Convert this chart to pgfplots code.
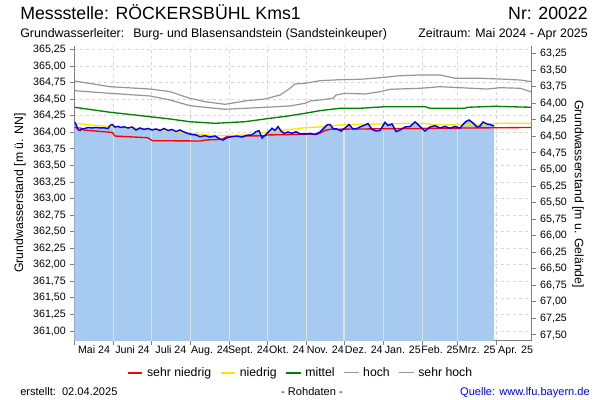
\documentclass[border=0pt]{standalone}
\usepackage{fontspec}
\setmainfont{Liberation Sans}
\usepackage{pgfplots}
\usepackage{pgfplotstable}
\pgfplotsset{compat=1.18}
\definecolor{fillblue}{RGB}{166,202,240}
\definecolor{axisgray}{RGB}{128,128,128}
\definecolor{gridgray}{RGB}{215,215,215}
\definecolor{ylw}{RGB}{255,228,0}
\definecolor{grn}{RGB}{0,128,0}
\definecolor{gr1}{RGB}{150,150,150}
\definecolor{gr2}{RGB}{150,150,150}
\definecolor{vline}{RGB}{225,225,225}

\pgfplotstableread{
x y
0 364.158
1.19 364.120
2.78 364.045
4.36 364.030
5.95 364.052
8.33 364.060
10.71 364.075
13.89 364.067
17.06 364.075
20.23 364.067
23.41 364.070
26.58 364.060
28.17 364.105
29.75 364.120
32.14 364.082
34.52 364.090
36.90 364.075
39.28 364.085
42.45 364.067
45.62 364.082
48.80 364.037
51.97 364.067
55.15 364.045
58.32 364.060
61.49 364.037
64.67 364.052
67.84 364.030
71.01 364.060
74.19 364.030
77.36 364.045
80.54 364.014
83.71 364.037
86.88 364.007
90.06 363.984
93.23 363.969
96.40 363.962
99.58 363.936
103.54 363.951
107.51 363.931
111.48 363.946
115.45 363.901
117.83 363.886
121.00 363.921
124.97 363.936
128.94 363.946
132.90 363.931
136.87 363.957
140.84 363.962
144.01 364.011
146.39 364.027
148.77 363.916
151.15 363.957
153.53 363.999
156.71 364.063
159.09 364.030
161.47 364.087
163.85 364.022
166.23 363.987
169.40 364.007
172.58 363.987
175.75 364.011
178.93 363.977
182.89 363.977
186.86 363.984
190.83 363.969
194.80 364.007
197.18 364.052
200.35 364.113
202.73 364.120
205.11 364.060
208.29 364.052
211.46 364.022
214.63 364.067
217.81 364.120
220.98 364.052
224.16 364.060
227.33 364.090
230.50 364.113
232.88 364.135
236.06 364.045
239.23 364.022
242.40 364.030
246.37 364.153
248.75 364.105
251.92 364.128
255.10 364.014
258.27 364.037
262.24 364.082
266.21 364.090
270.17 364.158
272.55 364.120
275.73 364.060
278.11 364.022
282.08 364.082
286.04 364.102
290.01 364.067
293.98 364.090
297.94 364.063
301.91 364.090
305.88 364.067
308.26 364.120
310.64 364.165
313.02 364.188
316.19 364.143
319.37 364.082
321.75 364.097
324.13 364.158
327.30 364.128
329.68 364.120
332.86 364.097
}\blue

\pgfplotstableread{
x y
0 360.5
0 364.158
1.19 364.120
2.78 364.045
4.36 364.030
5.95 364.052
8.33 364.060
10.71 364.075
13.89 364.067
17.06 364.075
20.23 364.067
23.41 364.070
26.58 364.060
28.17 364.105
29.75 364.120
32.14 364.082
34.52 364.090
36.90 364.075
39.28 364.085
42.45 364.067
45.62 364.082
48.80 364.037
51.97 364.067
55.15 364.045
58.32 364.060
61.49 364.037
64.67 364.052
67.84 364.030
71.01 364.060
74.19 364.030
77.36 364.045
80.54 364.014
83.71 364.037
86.88 364.007
90.06 363.984
93.23 363.969
96.40 363.962
99.58 363.936
103.54 363.951
107.51 363.931
111.48 363.946
115.45 363.901
117.83 363.886
121.00 363.921
124.97 363.936
128.94 363.946
132.90 363.931
136.87 363.957
140.84 363.962
144.01 364.011
146.39 364.027
148.77 363.916
151.15 363.957
153.53 363.999
156.71 364.063
159.09 364.030
161.47 364.087
163.85 364.022
166.23 363.987
169.40 364.007
172.58 363.987
175.75 364.011
178.93 363.977
182.89 363.977
186.86 363.984
190.83 363.969
194.80 364.007
197.18 364.052
200.35 364.113
202.73 364.120
205.11 364.060
208.29 364.052
211.46 364.022
214.63 364.067
217.81 364.120
220.98 364.052
224.16 364.060
227.33 364.090
230.50 364.113
232.88 364.135
236.06 364.045
239.23 364.022
242.40 364.030
246.37 364.153
248.75 364.105
251.92 364.128
255.10 364.014
258.27 364.037
262.24 364.082
266.21 364.090
270.17 364.158
272.55 364.120
275.73 364.060
278.11 364.022
282.08 364.082
286.04 364.102
290.01 364.067
293.98 364.090
297.94 364.063
301.91 364.090
305.88 364.067
308.26 364.120
310.64 364.165
313.02 364.188
316.19 364.143
319.37 364.082
321.75 364.097
324.13 364.158
327.30 364.128
329.68 364.120
332.86 364.097
332.86 360.5
}\bluefill

\pgfplotstableread{
x y
0 364.777
28.2 364.691
59.9 364.656
75.8 364.616
91.6 364.516
103.5 364.465
119.4 364.425
135.2 364.475
151.1 364.505
163.1 364.566
171 364.667
175 364.732
182.9 364.743
194.8 364.782
210.7 364.797
226.6 364.803
242.5 364.827
258.3 364.857
274.2 364.868
290.1 364.868
302 364.818
321.8 364.818
337.8 364.807
353.7 364.792
362.6 364.767
}\sehrhoch

\pgfplotstableread{
x y
0 364.631
28.2 364.591
59.9 364.551
75.8 364.490
91.6 364.404
103.5 364.380
119.4 364.350
135.2 364.365
151.1 364.380
171 364.400
182.9 364.440
187 364.475
194.8 364.490
205.2 364.516
207.5 364.566
214.6 364.591
230.5 364.581
242.5 364.616
250.4 364.652
274.2 364.667
290.1 364.691
306 364.676
327.4 364.656
337.8 364.676
353.7 364.667
362.6 364.611
}\hoch

\pgfplotstableread{
x y
0 364.380
28.2 364.305
59.9 364.238
75.8 364.203
91.6 364.162
111.5 364.138
135.2 364.162
151.1 364.203
171 364.253
182.9 364.289
194.8 364.329
210.7 364.365
226.6 364.365
246.5 364.389
278.1 364.389
282.1 364.365
309.9 364.365
311.5 364.380
333.8 364.395
362.6 364.380
}\mittel

\pgfplotstableread{
x y
0 364.138
28.2 364.087
59.9 364.052
91.6 363.987
111.5 363.951
135.2 363.961
155.1 364.011
182.9 364.072
198.8 364.087
210.7 364.113
242.5 364.128
274.2 364.138
290.1 364.113
329.8 364.123
333.8 364.138
362.6 364.138
}\niedrig

\pgfplotstableread{
x y
0 364.072
5 364.065
8 364.035
30 364.000
32 363.946
58 363.920
62 363.875
100 363.871
104 363.886
117 363.895
121 363.940
150 363.950
153 363.962
193 363.975
199 364.030
203 364.048
270 364.060
362.6 364.075
}\sehrniedrig

\begin{document}
\begin{tikzpicture}[x=0.75pt,y=0.75pt]
\path[use as bounding box, fill=white] (0,0) rectangle (600,400);

\begin{axis}[
  at={(55.875pt,44.25pt)}, anchor=south west,
  scale only axis, width=342.75pt, height=221.25pt,
  xmin=0, xmax=362.6, ymin=360.849, ymax=365.306,
  axis x line*=bottom, axis y line*=left,
  axis line style={draw=axisgray, line width=0.75pt},
  tick align=outside, major tick length=3pt,
  tick style={draw=axisgray, line width=0.75pt},
  xtick={0,31,61,92,123,153,184,214,245,276,304,335},
  xticklabels={},
  extra x ticks={15.5,46,76.5,107.5,138,168.5,199,229.5,260.5,290,319.5,350},
  extra x tick labels={Mai 24,Juni 24,Juli 24,Aug. 24,Sept. 24,Okt. 24,Nov. 24,Dez. 24,Jan. 25,Feb. 25,Mrz. 25,Apr. 25},
  extra x tick style={grid=none, major tick length=0pt},
  ytick={361,361.25,361.5,361.75,362,362.25,362.5,362.75,363,363.25,363.5,363.75,364,364.25,364.5,364.75,365,365.25},
  /pgf/number format/assume math mode=true,
  yticklabel style={/pgf/number format/.cd, fixed, fixed zerofill, precision=2, use comma, 1000 sep={}},
  ticklabel style={font=\fontsize{8}{9.6}\selectfont, text=black},
  grid=major,
  major grid style={draw=gridgray, dash pattern=on 2.25pt off 2.25pt, line width=0.6pt},
  legend style={draw=none, fill=none, at={(0.4956,-0.108)}, anchor=center,
    legend columns=5, font=\fontsize{9.2}{11}\selectfont,
    /tikz/every even column/.append style={column sep=4.5pt},
    /tikz/every odd column/.append style={column sep=1pt}},
  legend image code/.code={\draw[#1] (0pt,0pt) -- (11pt,0pt);},
]
\addplot[fill=fillblue, draw=none, forget plot] table {\bluefill};
\addplot[vline, line width=1.1pt, unbounded coords=jump, forget plot] coordinates {
 (31,360.5) (31,364.07) (31,nan)
 (61,360.5) (61,364.02) (61,nan)
 (92,360.5) (92,363.95) (92,nan)
 (123,360.5) (123,363.91) (123,nan)
 (153,360.5) (153,363.98) (153,nan)
 (184,360.5) (184,363.96) (184,nan)
 (214,360.5) (214,364.04) (214,nan)
 (245,360.5) (245,364.00) (245,nan)
 (276,360.5) (276,364.03) (276,nan)
 (304,360.5) (304,364.05)
};
\addplot[red, line width=1pt] table {\sehrniedrig};
\addlegendentry{sehr niedrig}
\addplot[ylw, line width=1pt] table {\niedrig};
\addlegendentry{niedrig}
\addplot[grn, line width=1pt] table {\mittel};
\addlegendentry{mittel}
\addplot[gr1, line width=0.9pt] table {\hoch};
\addlegendentry{hoch}
\addplot[gr2, line width=0.9pt] table {\sehrhoch};
\addlegendentry{sehr hoch}
\addplot[blue, line width=1.1pt, forget plot] table {\blue};
\end{axis}

\begin{axis}[
  at={(55.875pt,44.25pt)}, anchor=south west,
  scale only axis, width=342.75pt, height=221.25pt,
  xmin=0, xmax=362.6, ymin=63.134, ymax=67.591, y dir=reverse,
  axis x line=none, axis y line*=right,
  axis line style={draw=axisgray, line width=0.75pt},
  tick align=outside, major tick length=3pt,
  tick style={draw=axisgray, line width=0.75pt},
  ytick={63.25,63.5,63.75,64,64.25,64.5,64.75,65,65.25,65.5,65.75,66,66.25,66.5,66.75,67,67.25,67.5},
  /pgf/number format/assume math mode=true,
  yticklabel style={/pgf/number format/.cd, fixed, fixed zerofill, precision=2, use comma, 1000 sep={}},
  ticklabel style={font=\fontsize{8}{9.6}\selectfont, text=black},
]
\addplot[draw=none, forget plot] coordinates {(0,63.5) (1,63.5)};
\end{axis}

\node[anchor=base west, inner sep=0, font=\fontsize{13.3}{16}\selectfont] at (20,380) {Messstelle: RÖCKERSBÜHL Kms1};
\node[anchor=base east, inner sep=0, font=\fontsize{13.3}{16}\selectfont] at (588,380) {Nr: 20022};
\node[anchor=base west, inner sep=0, font=\fontsize{9.3}{11}\selectfont] at (20,362) {Grundwasserleiter:};
\node[anchor=base west, inner sep=0, font=\fontsize{9.3}{11}\selectfont] at (133,362) {Burg- und Blasensandstein (Sandsteinkeuper)};
\node[anchor=base east, inner sep=0, font=\fontsize{9.3}{11}\selectfont] at (588,362) {Zeitraum: Mai 2024 - Apr 2025};
\node[rotate=90, inner sep=0, font=\fontsize{9.2}{11}\selectfont] at (20,207) {Grundwasserstand [m ü. NN]};
\node[rotate=-90, inner sep=0, font=\fontsize{9.2}{11}\selectfont] at (578,206) {Grundwasserstand [m u. Gelände]};
\node[anchor=base west, inner sep=0, font=\fontsize{8.3}{10}\selectfont] at (20,4) {erstellt:\ \ 02.04.2025};
\node[anchor=base, inner sep=0, font=\fontsize{8.3}{10}\selectfont] at (312,4) {- Rohdaten -};
\node[anchor=base east, inner sep=0, text=blue, font=\fontsize{8.3}{10}\selectfont] at (590,4) {Quelle: www.lfu.bayern.de};
\end{tikzpicture}
\end{document}
